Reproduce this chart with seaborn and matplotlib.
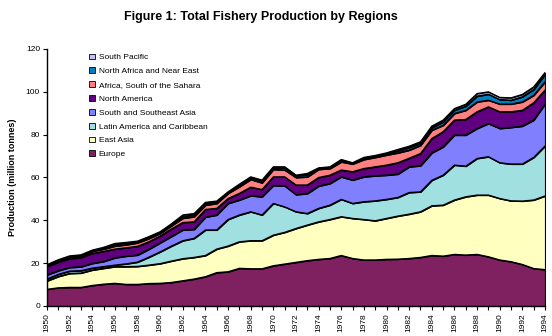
import numpy as np
import pandas as pd
import matplotlib
matplotlib.use("Agg")
import matplotlib.pyplot as plt
from matplotlib.patches import Patch
import seaborn as sns

years = list(range(1950, 1995))

europe = [7.8, 8.5, 8.7, 8.7, 9.6, 10.2, 10.6, 10.1, 10.1, 10.5,
          10.6, 11.0, 11.8, 12.6, 13.7, 15.6, 16.0, 17.6, 17.4, 17.4,
          18.8, 19.6, 20.4, 21.2, 21.8, 22.2, 23.6, 22.2, 21.5, 21.5,
          21.8, 21.9, 22.2, 22.7, 23.6, 23.3, 24.1, 23.8, 24.1, 23.0,
          21.5, 20.7, 19.4, 17.5, 17.0]
east_asia = [3.9, 5.3, 6.5, 6.7, 7.2, 7.4, 7.8, 8.3, 8.4, 8.6,
             9.2, 10.0, 10.3, 10.1, 9.9, 11.0, 12.0, 12.4, 13.1, 13.1,
             14.3, 14.8, 15.8, 16.6, 17.5, 18.2, 18.1, 18.7, 18.9, 18.3,
             19.1, 20.1, 20.7, 21.3, 23.2, 23.8, 25.4, 27.2, 27.7, 28.8,
             28.7, 28.4, 29.6, 32.0, 34.4]
latin_america = [0.9, 1.0, 1.1, 1.1, 0.9, 0.8, 0.7, 1.3, 2.0, 3.7,
                 5.5, 7.0, 8.4, 8.9, 11.9, 8.9, 12.4, 12.5, 13.5, 12.0,
                 14.8, 11.9, 7.8, 5.4, 6.3, 6.7, 8.1, 7.0, 8.3, 9.3,
                 8.9, 8.7, 10.1, 9.3, 11.9, 14.0, 16.3, 14.3, 17.1, 17.9,
                 16.7, 17.2, 17.3, 19.9, 23.3]
south_se_asia = [1.9, 1.7, 1.7, 1.8, 2.2, 2.4, 3.4, 3.6, 3.3, 3.7,
                 4.2, 4.5, 5.0, 4.2, 6.0, 7.0, 7.5, 7.0, 7.5, 8.5,
                 8.4, 9.8, 8.0, 9.3, 10.4, 10.1, 10.5, 10.9, 11.6, 11.7,
                 11.3, 10.9, 12.0, 12.2, 12.8, 13.2, 14.0, 14.5, 14.0, 15.5,
                 16.0, 17.1, 17.7, 17.4, 19.6]
north_america = [3.9, 4.0, 4.1, 4.3, 4.7, 4.7, 4.1, 3.9, 4.1, 3.5,
                 3.2, 3.5, 3.5, 3.5, 3.6, 3.1, 2.3, 3.1, 4.0, 3.4,
                 4.0, 4.2, 4.5, 4.0, 4.0, 3.9, 3.2, 3.9, 3.9, 4.2,
                 4.7, 5.3, 4.0, 5.7, 6.7, 7.1, 7.0, 7.3, 7.8, 7.8,
                 7.8, 7.3, 7.4, 8.1, 6.5]
africa = [0.4, 0.5, 0.6, 0.6, 0.9, 1.1, 1.4, 1.4, 1.6, 1.5,
          1.2, 1.5, 2.0, 2.4, 2.0, 2.3, 2.4, 3.1, 3.6, 3.1,
          3.5, 3.2, 3.5, 3.8, 3.8, 3.1, 3.8, 3.6, 4.2, 4.4,
          4.7, 4.6, 3.8, 3.8, 3.9, 3.0, 3.1, 4.3, 4.6, 3.1,
          3.6, 3.6, 3.9, 3.5, 3.9]
north_africa_ne = [0.2, 0.2, 0.3, 0.3, 0.3, 0.4, 0.8, 0.7, 0.4, 0.5,
                   0.4, 0.5, 0.8, 0.8, 0.8, 0.6, 0.4, 0.6, 0.7, 0.8,
                   0.7, 1.0, 0.7, 1.0, 0.4, 0.4, 0.6, 0.3, 0.5, 0.5,
                   0.5, 0.9, 1.2, 1.0, 1.1, 1.6, 1.5, 1.9, 2.7, 2.8,
                   2.1, 1.8, 2.4, 2.7, 3.4]
south_pacific = [0.3, 0.4, 0.4, 0.4, 0.3, 0.4, 0.4, 0.4, 0.4, 0.4,
                 0.4, 0.4, 0.7, 0.7, 0.5, 0.5, 0.3, 0.6, 0.5, 0.5,
                 0.5, 0.5, 0.4, 0.6, 0.3, 0.4, 0.5, 0.3, 0.5, 0.4,
                 0.5, 0.7, 0.6, 0.7, 0.8, 0.8, 0.8, 0.9, 1.2, 1.1,
                 1.0, 1.1, 1.1, 1.2, 0.9]

series_names = ["Europe", "East Asia", "Latin America and Caribbean",
                "South and Southeast Asia", "North America",
                "Africa, South of the Sahara", "North Africa and Near East",
                "South Pacific"]
series_values = [europe, east_asia, latin_america, south_se_asia,
                 north_america, africa, north_africa_ne, south_pacific]
colors = ["#7f2060", "#ffffc0", "#a0e0e0", "#8080ff",
          "#600080", "#ff8080", "#0080c0", "#c0c0ff"]

title = "Figure 1: Total Fishery Production by Regions"
ylabel = "Production (million tonnes)"

sns.set_theme(style="ticks")
plt.rcParams['font.family'] = ['Liberation Sans', 'DejaVu Sans']
plt.rcParams['text.color'] = 'black'
plt.rcParams['axes.labelcolor'] = 'black'
plt.rcParams['xtick.color'] = 'black'
plt.rcParams['ytick.color'] = 'black'

fig = plt.figure(figsize=(5.52, 3.36), dpi=100)
ax = fig.add_axes([0.0851, 0.0893, 0.9022, 0.7649])

ax.stackplot(years, *series_values, colors=colors, edgecolor="black",
             linewidth=0.8, baseline="zero")

# boundary lines via seaborn
cum = np.cumsum(np.array(series_values), axis=0)
long = pd.DataFrame({
    "year": np.tile(years, len(series_names)),
    "value": cum.ravel(),
    "series": np.repeat(series_names, len(years)),
})
sns.lineplot(data=long, x="year", y="value", units="series", estimator=None,
             color="black", linewidth=0.9, ax=ax, legend=False)

ax.set_xlim(1950, 1994)
ax.set_ylim(0, 120)
ax.set_yticks(range(0, 121, 20))
ax.set_xticks(range(1950, 1995, 2))
ax.set_xticks(range(1950, 1995, 1), minor=True)
ax.set_xticklabels([str(y) for y in range(1950, 1995, 2)], rotation=90,
                   fontsize=6)
ax.tick_params(axis="y", labelsize=6, length=3, width=0.8, pad=2,
               colors="black")
ax.tick_params(axis="x", which="both", length=3, width=0.8, pad=2,
               colors="black")
ax.set_xlabel("")
ax.set_ylabel(ylabel, fontsize=6.5, fontweight="bold", labelpad=6,
              color="black")
sns.despine(ax=ax)
for s in ["left", "bottom"]:
    ax.spines[s].set_color("black")
    ax.spines[s].set_linewidth(1.0)

handles = [Patch(facecolor=c, edgecolor="black", linewidth=0.6, label=n)
           for n, c in zip(series_names, colors)][::-1]
leg = ax.legend(handles=handles, loc="upper left",
                bbox_to_anchor=(0.078, 0.995),
                frameon=False, fontsize=6, handlelength=0.7,
                handleheight=0.7, handletextpad=0.45, labelspacing=0.72,
                borderaxespad=0)
for t in leg.get_texts():
    t.set_color("black")

fig.text(0.473, 0.95, title, ha="center", va="center", fontsize=9,
         fontweight="bold", color="black")

fig.savefig("out.png", dpi=100, facecolor="white")
